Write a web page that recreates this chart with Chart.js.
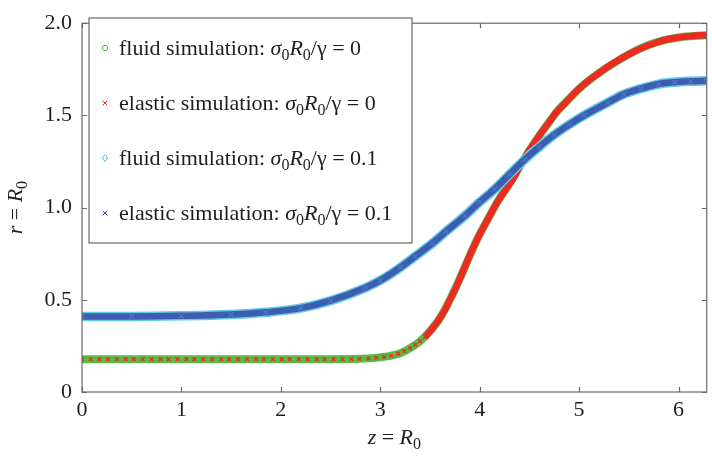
<!DOCTYPE html>
<html>
<head>
<meta charset="utf-8">
<script src="https://cdn.jsdelivr.net/npm/chart.js@4.4.1/dist/chart.umd.min.js"></script>
<style>
  body { margin: 0; background: #fff; }
  canvas { display: block; }
</style>
</head>
<body>
<canvas id="shapeChart" width="712" height="459"></canvas>
<script>
// values (z = R0, r = R0)
const zFluid0 = [0, 0.5, 1, 1.5, 2, 2.5, 2.8, 2.95, 3.1, 3.2, 3.3, 3.4, 3.5, 3.6, 3.7, 3.8, 3.9, 4.0, 4.1, 4.2, 4.3, 4.4, 4.5, 4.6, 4.7, 4.8, 4.9, 5.0, 5.2, 5.4, 5.6, 5.8, 6.0, 6.28];
const rFluid0 = [0.178, 0.178, 0.178, 0.178, 0.178, 0.178, 0.18, 0.185, 0.196, 0.21, 0.238, 0.275, 0.33, 0.40, 0.50, 0.615, 0.74, 0.855, 0.955, 1.05, 1.13, 1.22, 1.31, 1.39, 1.465, 1.535, 1.59, 1.645, 1.73, 1.80, 1.86, 1.90, 1.922, 1.935];

const zElastic0 = [0, 0.087, 0.175, 0.26, 0.35, 0.44, 0.52, 0.61, 0.70, 0.79, 0.87, 0.96, 1.05, 1.13, 1.22, 1.31, 1.40, 1.48, 1.57, 1.66, 1.75, 1.83, 1.92, 2.01, 2.09, 2.18, 2.27, 2.36, 2.44, 2.53, 2.62, 2.71, 2.79, 2.88, 2.96,
  3.04, 3.11, 3.18, 3.24, 3.30, 3.35, 3.40, 3.45, 3.49, 3.53, 3.57, 3.61, 3.65, 3.70, 3.75, 3.80, 3.85, 3.90, 3.95, 4.00, 4.05, 4.10, 4.16, 4.22, 4.29, 4.35, 4.42, 4.49, 4.56, 4.63, 4.70, 4.76, 4.83, 4.90, 4.96, 5.02, 5.12, 5.20, 5.29, 5.38, 5.46, 5.55, 5.65, 5.75, 5.85, 5.95, 6.05, 6.15, 6.28];
const rElastic0 = [0.178, 0.178, 0.178, 0.178, 0.178, 0.178, 0.178, 0.178, 0.178, 0.178, 0.178, 0.178, 0.178, 0.178, 0.178, 0.178, 0.178, 0.178, 0.178, 0.178, 0.178, 0.178, 0.178, 0.178, 0.178, 0.178, 0.178, 0.178, 0.178, 0.178, 0.178, 0.179, 0.18, 0.182, 0.186,
  0.19, 0.197, 0.208, 0.222, 0.238, 0.256, 0.275, 0.298, 0.322, 0.35, 0.378, 0.41, 0.445, 0.50, 0.554, 0.615, 0.677, 0.74, 0.80, 0.855, 0.905, 0.955, 1.015, 1.065, 1.12, 1.17, 1.24, 1.305, 1.36, 1.415, 1.465, 1.51, 1.55, 1.59, 1.625, 1.655, 1.70, 1.73, 1.765, 1.795, 1.82, 1.845, 1.87, 1.89, 1.907, 1.918, 1.926, 1.932, 1.935];

// fluid and elastic runs at sigma0 R0 / gamma = 0.1 lie on top of each other
const zSigma1 = [0, 0.5, 1.0, 1.5, 1.85, 2.2, 2.5, 2.85, 3.0, 3.2, 3.35, 3.52, 3.66, 3.85, 4.0, 4.15, 4.3, 4.45, 4.6, 4.75, 4.9, 5.05, 5.29, 5.45, 5.62, 5.8, 5.96, 6.12, 6.28];
const rSigma1 = [0.41, 0.41, 0.413, 0.42, 0.432, 0.455, 0.495, 0.565, 0.605, 0.675, 0.735, 0.805, 0.87, 0.955, 1.03, 1.10, 1.18, 1.26, 1.33, 1.395, 1.45, 1.50, 1.57, 1.615, 1.645, 1.67, 1.68, 1.685, 1.688];

const xTicks = [0, 1, 2, 3, 4, 5, 6];
const yTicks = [0, 0.5, 1, 1.5, 2];
const yTickLabels = ['0', '0.5', '1.0', '1.5', '2.0'];
const simNames = ['fluid simulation', 'elastic simulation', 'fluid simulation', 'elastic simulation'];
const sigmaValues = ['0', '0', '0.1', '0.1'];

const serif = '"Liberation Serif", "Times New Roman", "DejaVu Serif", serif';
const textColor = '#1e1e1e';
const frameColor = '#6a6a6a';
const green = '#5cb947';
const red = '#ee2a22';
const cyan = '#62c9e8';
const blue = '#3c5db0';
const redBandFrom = 3.45;

const pts = (xs, ys) => xs.map((x, i) => ({ x: x, y: ys[i] }));

function drawRich(ctx, runs, x, y, size, align) {
    const fontFor = r => (r.i ? 'italic ' : '') + (r.s ? Math.round(size * 0.72) : size) + 'px ' + serif;
    let total = 0;
    runs.forEach(r => { ctx.font = fontFor(r); total += ctx.measureText(r.t).width; });
    let cx = align === 'center' ? x - total / 2 : x;
    ctx.textAlign = 'left';
    ctx.textBaseline = 'alphabetic';
    runs.forEach(r => {
        ctx.font = fontFor(r);
        ctx.fillText(r.t, cx, y + (r.s ? size * 0.22 : 0));
        cx += ctx.measureText(r.t).width;
    });
}

function drawMarker(ctx, kind, x, y, color) {
    ctx.save();
    ctx.strokeStyle = color;
    ctx.lineWidth = 1;
    ctx.beginPath();
    if (kind === 'circle') {
        ctx.arc(x, y, 2.6, 0, Math.PI * 2);
    } else if (kind === 'diamond') {
        ctx.moveTo(x, y - 3.6); ctx.lineTo(x + 2.6, y); ctx.lineTo(x, y + 3.6); ctx.lineTo(x - 2.6, y); ctx.closePath();
    } else {
        ctx.moveTo(x - 2.3, y - 2.3); ctx.lineTo(x + 2.3, y + 2.3);
        ctx.moveTo(x + 2.3, y - 2.3); ctx.lineTo(x - 2.3, y + 2.3);
    }
    ctx.stroke();
    ctx.restore();
}

// box with inward ticks on all four sides
const frame = {
    id: 'frame',
    afterDatasetsDraw(chart) {
        const { ctx, chartArea: { left, right, top, bottom }, scales: { x, y } } = chart;
        ctx.save();
        ctx.strokeStyle = frameColor;
        ctx.lineWidth = 1.2;
        ctx.strokeRect(left, top, right - left, bottom - top);
        ctx.beginPath();
        xTicks.forEach(v => {
            const px = Math.round(x.getPixelForValue(v)) + 0.5;
            ctx.moveTo(px, bottom); ctx.lineTo(px, bottom - 5);
            ctx.moveTo(px, top); ctx.lineTo(px, top + 5);
        });
        yTicks.forEach(v => {
            const py = Math.round(y.getPixelForValue(v)) + 0.5;
            ctx.moveTo(left, py); ctx.lineTo(left + 5, py);
            ctx.moveTo(right, py); ctx.lineTo(right - 5, py);
        });
        ctx.stroke();
        ctx.restore();
    }
};

const legendBox = {
    id: 'legendBox',
    afterDraw(chart) {
        const ctx = chart.ctx;
        const bx = 89, by = 18, bw = 323, bh = 225;
        ctx.save();
        ctx.fillStyle = '#fff';
        ctx.fillRect(bx, by, bw, bh);
        ctx.strokeStyle = frameColor;
        ctx.lineWidth = 1.2;
        ctx.strokeRect(bx, by, bw, bh);
        chart.data.datasets.forEach((ds, i) => {
            const cy = by + 30 + i * 55;
            drawMarker(ctx, ds.marker, bx + 16, cy, ds.markerColor);
            ctx.fillStyle = textColor;
            drawRich(ctx, [
                { t: simNames[i] + ': ' },
                { t: 'σ', i: true }, { t: '0', s: true },
                { t: 'R', i: true }, { t: '0', s: true },
                { t: '/γ = ' + sigmaValues[i] }
            ], bx + 30, cy + 7, 22);
        });
        ctx.restore();
    }
};

const axisTitles = {
    id: 'axisTitles',
    afterDraw(chart) {
        const { ctx, chartArea: { left, right, top, bottom } } = chart;
        ctx.save();
        ctx.fillStyle = textColor;
        drawRich(ctx, [{ t: 'z', i: true }, { t: ' = ' }, { t: 'R', i: true }, { t: '0', s: true }], (left + right) / 2, 444, 22, 'center');
        ctx.translate(22, (top + bottom) / 2);
        ctx.rotate(-Math.PI / 2);
        drawRich(ctx, [{ t: 'r', i: true }, { t: ' = ' }, { t: 'R', i: true }, { t: '0', s: true }], 0, 0, 22, 'center');
        ctx.restore();
    }
};

const chart = new Chart(document.getElementById('shapeChart'), {
    type: 'scatter',
    data: {
        datasets: [
            {
                label: 'fluid simulation 0',
                data: pts(zFluid0, rFluid0),
                showLine: true,
                borderColor: green,
                borderWidth: 8,
                pointRadius: 0,
                cubicInterpolationMode: 'monotone',
                order: 4,
                marker: 'circle',
                markerColor: '#4fb43a'
            },
            {
                label: 'elastic simulation 0',
                data: pts(zElastic0, rElastic0),
                showLine: true,
                borderColor: red,
                borderWidth: 6.5,
                segment: {
                    borderColor: c => c.p0.parsed.x >= redBandFrom ? red : 'rgba(0,0,0,0)'
                },
                cubicInterpolationMode: 'monotone',
                pointStyle: 'crossRot',
                pointRadius: 2.6,
                pointBorderWidth: 1.3,
                pointBorderColor: red,
                order: 3,
                marker: 'cross',
                markerColor: red
            },
            {
                label: 'fluid simulation 0.1',
                data: pts(zSigma1, rSigma1),
                showLine: true,
                borderColor: cyan,
                borderWidth: 9.5,
                pointRadius: 0,
                cubicInterpolationMode: 'monotone',
                order: 2,
                marker: 'diamond',
                markerColor: '#4cc4dc'
            },
            {
                label: 'elastic simulation 0.1',
                data: pts(zSigma1, rSigma1),
                showLine: true,
                borderColor: blue,
                borderWidth: 6.5,
                cubicInterpolationMode: 'monotone',
                pointStyle: 'crossRot',
                pointRadius: 3.8,
                pointBorderWidth: 1.2,
                pointBorderColor: '#4a78c4',
                order: 1,
                marker: 'cross',
                markerColor: '#3b55b0'
            }
        ]
    },
    options: {
        responsive: false,
        animation: false,
        layout: { padding: { top: 12, right: 3, left: 0, bottom: 0 } },
        plugins: {
            legend: { display: false },
            tooltip: { enabled: false }
        },
        scales: {
            x: {
                type: 'linear',
                min: 0,
                max: 2 * Math.PI,
                grid: { display: false, drawTicks: false },
                border: { display: false },
                ticks: { font: { family: serif, size: 22 }, color: textColor, padding: 5, maxRotation: 0, autoSkip: false },
                afterBuildTicks: s => { s.ticks = xTicks.map(v => ({ value: v })); },
                afterFit: s => { s.height = 67; }
            },
            y: {
                type: 'linear',
                min: 0,
                max: 2,
                grid: { display: false, drawTicks: false },
                border: { display: false },
                ticks: {
                    font: { family: serif, size: 22 },
                    color: textColor,
                    padding: 10,
                    autoSkip: false,
                    callback: v => yTickLabels[yTicks.indexOf(v)]
                },
                afterBuildTicks: s => { s.ticks = yTicks.map(v => ({ value: v })); },
                afterFit: s => { s.width = 82; }
            }
        }
    },
    plugins: [frame, legendBox, axisTitles]
});
</script>
</body>
</html>
